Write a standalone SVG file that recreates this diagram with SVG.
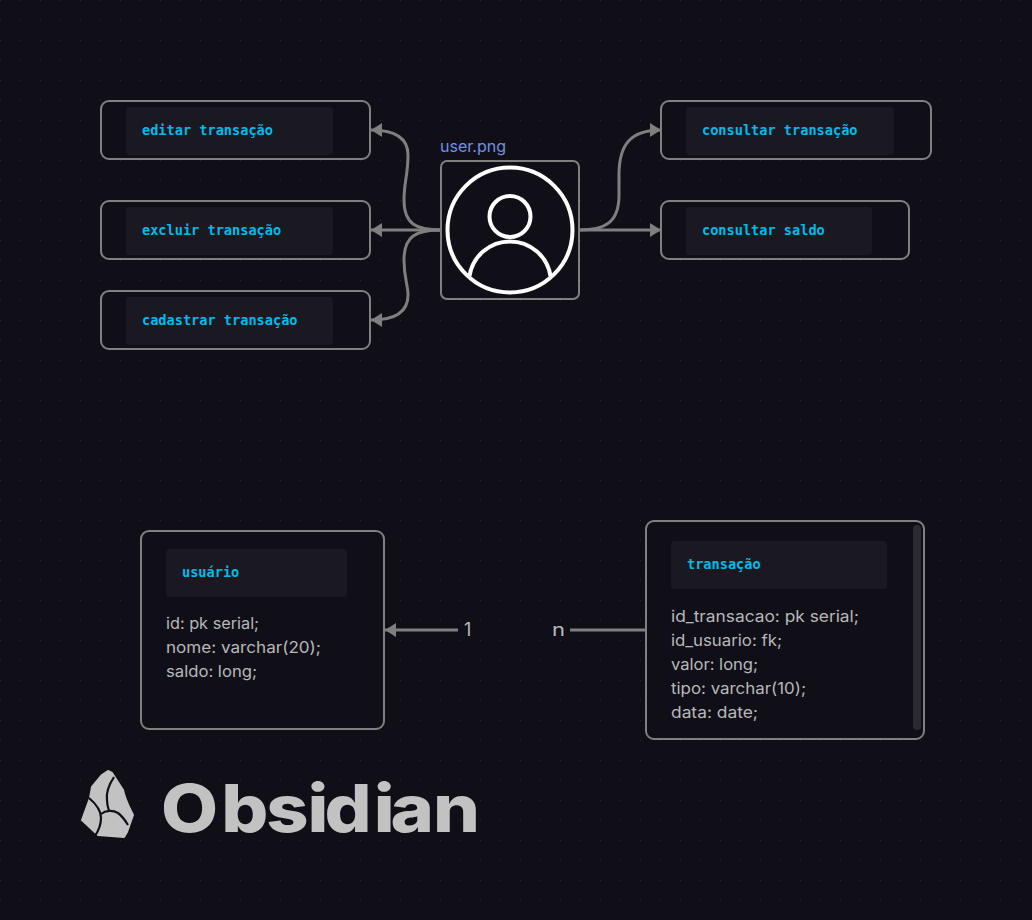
<svg xmlns="http://www.w3.org/2000/svg" width="1032" height="920" viewBox="0 0 1032 920">
<style>
.box{fill:#100f17;stroke:#808080;stroke-width:2}
.head{fill:#1a1921}
.code{font-family:"DejaVu Sans Mono","Liberation Mono",monospace;font-size:13.6px;font-weight:700;fill:#00bce8}
.body{font-family:Inter,"Noto Sans",sans-serif;font-size:16px;fill:#b8b8bb;font-weight:400}
.link{fill:none;stroke:#7f7f7f;stroke-width:3}
.av{fill:none;stroke:#fff;stroke-width:4}
.crack{fill:none;stroke:#100f17;stroke-width:2.200}
</style>
<defs>
<pattern id="dots" width="20" height="20" patternUnits="userSpaceOnUse"><rect width="1" height="1" fill="#2a2a32"/></pattern>
<marker id="arrow" markerUnits="userSpaceOnUse" markerWidth="12" markerHeight="14" refX="11" refY="7" orient="auto"><path d="M0 0L11 7L0 14Z" fill="#7f7f7f"/></marker>
</defs>
<rect id="background" width="1032" height="920" fill="#100f17"/>
<rect id="grid" width="1032" height="920" fill="url(#dots)"/>
<g id="connectors">
<path class="link" marker-end="url(#arrow)" d="M441 230C416 230 404 224 404 200C404 182 408 175 408 155C408 138 396 130 371 130"/>
<path class="link" marker-end="url(#arrow)" d="M441 230H371"/>
<path class="link" marker-end="url(#arrow)" d="M441 230C416 230 404 236 404 260C404 278 408 285 408 295C408 312 396 320 371 320"/>
<path class="link" marker-end="url(#arrow)" d="M579 230C606 230 619 222 619 195V175C619 145 630 130 661 130"/>
<path class="link" marker-end="url(#arrow)" d="M579 230H661"/>
<path class="link" marker-end="url(#arrow)" d="M458 630H385"/>
<path class="link" d="M570 630H646"/>
</g>
<g id="editar"><rect class="box" x="101" y="101" width="269" height="58" rx="8"/><rect class="head" x="126" y="107" width="207" height="48" rx="4"/><text class="code" x="142" y="135">editar transação</text></g>
<g id="excluir"><rect class="box" x="101" y="201" width="269" height="58" rx="8"/><rect class="head" x="126" y="207" width="207" height="48" rx="4"/><text class="code" x="142" y="235">excluir transação</text></g>
<g id="cadastrar"><rect class="box" x="101" y="291" width="269" height="58" rx="8"/><rect class="head" x="126" y="297" width="207" height="48" rx="4"/><text class="code" x="142" y="325">cadastrar transação</text></g>
<g id="user">
<text x="440" y="152" font-family="Inter,'Noto Sans',sans-serif" font-size="16" fill="#7291e6" textLength="66" lengthAdjust="spacingAndGlyphs">user.png</text>
<rect class="box" x="441" y="161" width="138" height="138" rx="6"/>
<circle class="av" cx="510" cy="230" r="62.500"/><circle class="av" cx="510" cy="216.500" r="20.500"/><path class="av" d="M469.500 276A41 41 0 0 1 550.500 276"/>
</g>
<g id="consultar-transacao"><rect class="box" x="661" y="101" width="270" height="58" rx="8"/><rect class="head" x="686" y="107" width="208" height="48" rx="4"/><text class="code" x="702" y="135">consultar transação</text></g>
<g id="consultar-saldo"><rect class="box" x="661" y="201" width="248" height="58" rx="8"/><rect class="head" x="686" y="207" width="186" height="48" rx="4"/><text class="code" x="702" y="235">consultar saldo</text></g>
<g id="usuario"><rect class="box" x="141" y="531" width="243" height="198" rx="8"/><rect class="head" x="166" y="549" width="181" height="48" rx="4"/><text class="code" x="182" y="577">usuário</text>
<text class="body" x="166" y="629" textLength="93" lengthAdjust="spacingAndGlyphs">id: pk serial;</text>
<text class="body" x="166" y="653" textLength="155" lengthAdjust="spacingAndGlyphs">nome: varchar(20);</text>
<text class="body" x="166" y="677" textLength="91" lengthAdjust="spacingAndGlyphs">saldo: long;</text></g>
<g id="transacao"><rect class="box" x="646" y="521" width="278" height="218" rx="8"/><rect class="head" x="671" y="541" width="216" height="48" rx="4"/><text class="code" x="687" y="569">transação</text>
<rect x="913" y="525" width="8" height="205" rx="4" fill="#2b2a33"/>
<text class="body" x="671" y="622" textLength="188" lengthAdjust="spacingAndGlyphs">id_transacao: pk serial;</text>
<text class="body" x="671" y="646" textLength="111" lengthAdjust="spacingAndGlyphs">id_usuario: fk;</text>
<text class="body" x="671" y="670" textLength="87" lengthAdjust="spacingAndGlyphs">valor: long;</text>
<text class="body" x="671" y="694" textLength="135" lengthAdjust="spacingAndGlyphs">tipo: varchar(10);</text>
<text class="body" x="671" y="718" textLength="87" lengthAdjust="spacingAndGlyphs">data: date;</text></g>
<text class="body" x="464" y="636" style="font-size:18px">1</text>
<text class="body" x="552" y="636" style="font-size:18px" textLength="13" lengthAdjust="spacingAndGlyphs">n</text>
<g id="logo">
<path fill="#c2c2c2" stroke="#c2c2c2" stroke-width="2" stroke-linejoin="round" d="M108 771L112 773L123 790C125 800 129 807 133 815L127 832L124 837L98 835L82 820L90 798L92 787L102 775Z"/>
<path class="crack" d="M114 777C108 786 106 792 107 800C107 805 108 808 109 811"/>
<path class="crack" d="M89 798C95 803 101 810 101 818C101 825 99 830 95 836"/>
<path class="crack" d="M101 814C106 810 113 810 118 813C122 816 125 820 128 825"/>
<text transform="translate(162 832) scale(1.12 1)" x="-1 53 93 130 145 189 204 242" y="0" font-family="Inter,'Liberation Sans',sans-serif" font-size="66" font-weight="800" fill="#c2c2c2">Obsidian</text>
</g>
</svg>
